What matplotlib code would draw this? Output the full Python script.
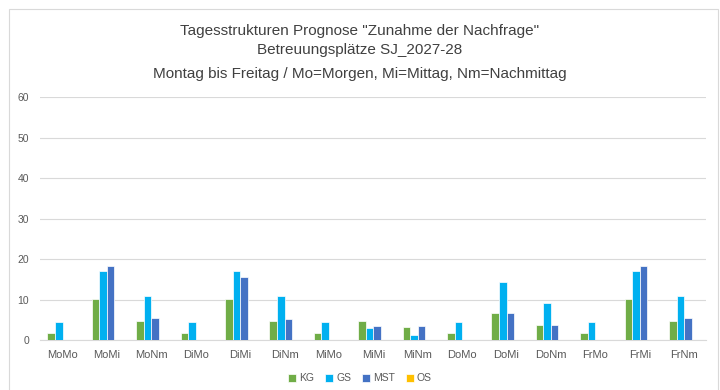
import numpy as np
import matplotlib.pyplot as plt
from matplotlib.patches import Rectangle

plt.rcParams['font.family'] = ['Liberation Sans Narrow', 'Liberation Sans', 'DejaVu Sans']

# Tagesstrukturen: Betreuungsplaetze je Zeitfenster
kategorien = ['MoMo', 'MoMi', 'MoNm', 'DiMo', 'DiMi', 'DiNm', 'MiMo', 'MiMi',
              'MiNm', 'DoMo', 'DoMi', 'DoNm', 'FrMo', 'FrMi', 'FrNm']
kg = [1.7, 10.25, 4.75, 1.7, 10.25, 4.75, 1.7, 4.75, 3.25, 1.7, 6.7, 3.8, 1.7, 10.25, 4.75]
gs = [4.5, 17.0, 10.8, 4.5, 17.0, 10.8, 4.5, 2.9, 1.33, 4.5, 14.3, 9.1, 4.5, 17.0, 10.8]
mst = [0, 18.3, 5.4, 0, 15.5, 5.1, 0, 3.5, 3.5, 0, 6.7, 3.8, 0, 18.3, 5.4]
os_ = [0] * 15

serien = ['KG', 'GS', 'MST', 'OS']
farben = ['#70AD47', '#00B0F0', '#4472C4', '#FFC000']

fig = plt.figure(figsize=(7.2, 3.9), dpi=100)
ax = fig.add_axes([0.056, 0.128, 0.925, 0.623])

# Rahmen um das Diagramm
fig.patches.append(Rectangle((0.012, -0.01), 0.985, 0.988, transform=fig.transFigure,
                             fill=False, edgecolor='#D9D9D9', linewidth=0.8))

x = np.arange(len(kategorien))
breite = 0.17
for i, (werte, name, farbe) in enumerate(zip([kg, gs, mst, os_], serien, farben)):
    ax.bar(x + (i - 1.5) * breite, werte, breite, color=farbe, label=name,
           edgecolor='white', linewidth=0.5, zorder=3)

ax.set_ylim(0, 60)
ax.set_yticks(range(0, 61, 10))
ax.set_xlim(-0.5, len(kategorien) - 0.5)
ax.set_xticks(x)
ax.set_xticklabels(kategorien)
ax.grid(axis='y', color='#D9D9D9', linewidth=0.8, zorder=0)
for s in ['top', 'right', 'left']:
    ax.spines[s].set_visible(False)
ax.spines['bottom'].set_color('#D9D9D9')
ax.tick_params(axis='x', length=0, labelsize=8, colors='#595959', pad=7)
ax.tick_params(axis='y', length=0, labelsize=7.5, colors='#595959', pad=8)

fig.text(0.5, 0.92, 'Tagesstrukturen Prognose "Zunahme der Nachfrage"', ha='center',
         va='center', fontsize=11, color='#404040')
fig.text(0.5, 0.872, 'Betreuungsplätze SJ_2027-28', ha='center', va='center',
         fontsize=11, color='#404040')
fig.text(0.5, 0.81, 'Montag bis Freitag / Mo=Morgen, Mi=Mittag, Nm=Nachmittag', ha='center',
         va='center', fontsize=11, color='#404040')

leg = fig.legend(loc='center', bbox_to_anchor=(0.5, 0.03), ncol=4, frameon=False,
                 fontsize=7.5, handlelength=0.8, handleheight=0.8, handletextpad=0.3,
                 columnspacing=1.0, labelcolor='#595959')

fig.savefig('out.png', dpi=100)
